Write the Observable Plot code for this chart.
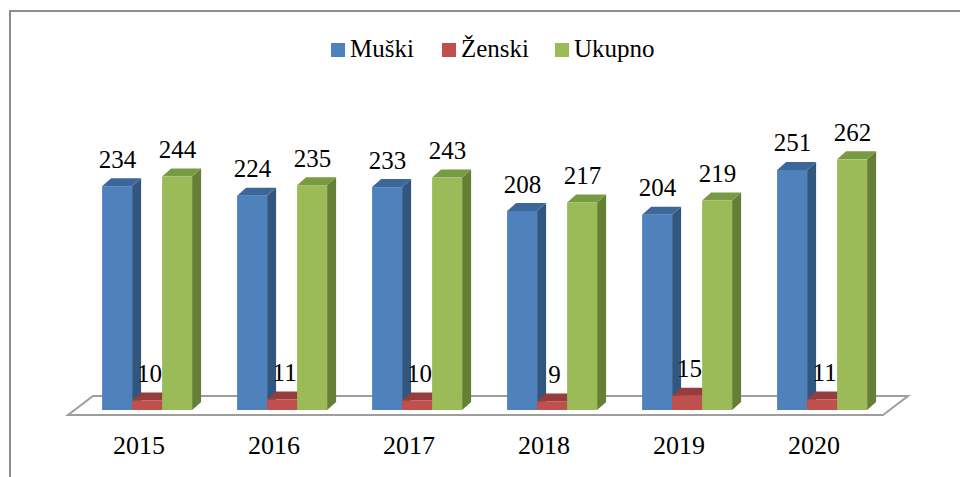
<!DOCTYPE html>
<html><head><meta charset="utf-8">
<script src="https://cdn.jsdelivr.net/npm/d3@7"></script>
<script src="https://cdn.jsdelivr.net/npm/@observablehq/plot@0.6"></script>
<style>
:root{--serif:"Liberation Serif","Tinos","Times New Roman","Times","DejaVu Serif","Noto Serif","FreeSerif","Nimbus Roman",serif;}
body{margin:0;background:#fff;font-family:var(--serif);}
#wrap{position:relative;width:960px;height:477px;overflow:hidden;background:#fff;}
#frame{position:absolute;left:9px;top:10px;width:1000px;height:520px;border-left:2px solid #8d8d8d;border-top:2px solid #8d8d8d;}
#legend{position:absolute;top:36px;left:0;width:960px;height:26px;font-family:var(--serif);font-size:25px;line-height:25px;color:#000;white-space:nowrap;}
#legend .item{position:absolute;top:0;}
#legend .sw{display:inline-block;width:14px;height:14px;margin-right:5px;vertical-align:baseline;}
#chart{position:absolute;left:0;top:80px;}
#chart svg text{font-family:var(--serif);}
</style>
</head><body>
<div id="wrap"><div id="frame"></div><div id="legend"></div><div id="chart"></div></div>
<script>
const years = ["2015","2016","2017","2018","2019","2020"];
const muski = [234,224,233,208,204,251];
const zenski = [10,11,10,9,15,11];
const ukupno = [244,235,243,217,219,262];
const seriesNames = ["Muški","Ženski","Ukupno"];
const frontColors = ["#4F81BD","#C0504D","#9BBB59"];
const topColors = ["#3D6699","#963C3A","#789A41"];
const sideColors = ["#32577F","#7E3230","#667F36"];
const seriesValues = [muski, zenski, ukupno];
const legendLeft = [331, 442, 555];

const rows = years.flatMap((yr,i)=>seriesNames.map((s,k)=>({year:yr, series:s, k, value:seriesValues[k][i]})));

// legend
const leg = document.getElementById("legend");
seriesNames.forEach((s,k)=>{
  const it = document.createElement("span"); it.className="item"; it.style.left = legendLeft[k] + "px";
  const sw = document.createElement("span"); sw.className="sw"; sw.style.background=frontColors[k];
  it.appendChild(sw); it.appendChild(document.createTextNode(s)); leg.appendChild(it);
});

const barW = 30;          // front face width (px)
const offsets = [-21.4, 8.6, 38.6]; // bar centre relative to category centre
const depthX = 9, depthY = 8;

function floor(index, scales, values, dims){
  const {y} = scales;
  const x0 = dims.marginLeft, x1 = dims.width - dims.marginRight;
  const yf = y(0) + 5, yb = y(0) - 14, dx = 25;
  const g = d3.create("svg:g");
  g.append("path")
    .attr("d", `M${x0},${yf}L${x1},${yf}L${x1+dx},${yb}L${x0+dx},${yb}Z`)
    .attr("fill","#fff").attr("stroke","#9e9e9e").attr("stroke-width",2).attr("stroke-linejoin","miter");
  return g.node();
}

function bars3d(index, scales, values, dims){
  const {x, y} = scales;
  const bw = x(years[1]) - x(years[0]);
  const g = d3.create("svg:g");
  for (const d of rows){
    const c = x(d.year) + bw/2 + offsets[d.k];
    const l = c - barW/2, r = c + barW/2;
    const t = y(d.value), b = y(0);
    g.append("path").attr("d",`M${r},${t}L${r+depthX},${t-depthY}L${r+depthX},${b-depthY}L${r},${b}Z`).attr("fill",sideColors[d.k]);
    g.append("path").attr("d",`M${l},${t}L${l+depthX},${t-depthY}L${r+depthX},${t-depthY}L${r},${t}Z`).attr("fill",topColors[d.k]);
    g.append("rect").attr("x",l).attr("y",t).attr("width",barW).attr("height",b-t).attr("fill",frontColors[d.k]);
  }
  return g.node();
}

const chart = Plot.plot({
  width: 960, height: 397,
  marginLeft: 68, marginRight: 77, marginTop: 43, marginBottom: 67,
  style: {fontSize: "26px", background: "transparent", color: "#000"},
  x: {type: "band", domain: years, padding: 0, tickSize: 0, tickPadding: 25, label: null},
  y: {domain: [0, 300], axis: null},
  marks: [
    floor,
    bars3d,
    ...seriesNames.map((s,k)=>Plot.text(rows.filter(d=>d.k===k), {
      x: "year", y: "value", text: d=>String(d.value),
      dx: offsets[k] + (k===1 ? 2 : 0), dy: -19, lineAnchor: "bottom", fontSize: 25, fill: "#000"
    }))
  ]
});
document.getElementById("chart").appendChild(chart);
</script>
</body></html>
